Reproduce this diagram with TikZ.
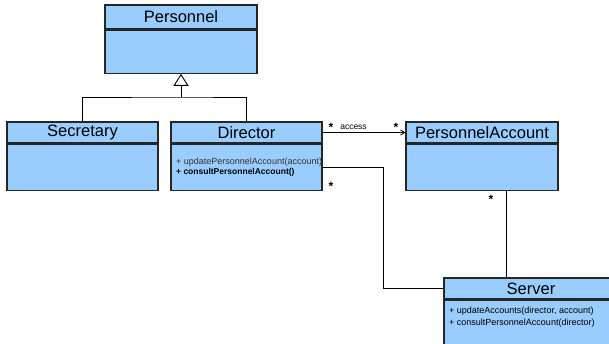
\documentclass[tikz,border=0pt]{standalone}
\usepackage{fontspec}
\setmainfont{Liberation Sans}
\usetikzlibrary{arrows.meta}
\definecolor{klasse}{RGB}{153,204,255}
\begin{document}
\begin{tikzpicture}[x=1pt,y=1pt,
	kopf/.style={draw=black!85, fill=klasse, line width=1.2pt, minimum height=21pt, inner sep=0pt, font=\fontsize{16.5}{18}\selectfont},
	rumpf/.style={draw=black!85, fill=klasse, line width=1.2pt, minimum height=46pt, inner sep=0pt, anchor=north},
	methode/.style={font=\fontsize{9}{10}\selectfont, anchor=west, inner sep=0pt},
	mult/.style={font=\bfseries\fontsize{12}{12}\selectfont, inner sep=0pt},
	verb/.style={line width=0.9pt}]
	\useasboundingbox (0,0) rectangle (609,343);
	\clip (0,0) rectangle (609,343);
	% Klassen
	\node[kopf, minimum width=152pt, minimum height=24pt] (perT) at (181,326) {Personnel};
	\node[rumpf, minimum width=152pt, minimum height=43pt] (per) at (perT.south) {};
	\node[kopf, minimum width=151pt] (secT) at (82.5,210.5) {Secretary};
	\node[rumpf, minimum width=151pt] (sec) at (secT.south) {};
	\node[kopf, minimum width=151pt] (dirT) at (246.5,210.5) {Director};
	\node[rumpf, minimum width=151pt] (dir) at (dirT.south) {};
	\node[kopf, minimum width=152pt] (accT) at (482,210.5) {PersonnelAccount};
	\node[rumpf, minimum width=152pt] (acc) at (accT.south) {};
	\node[kopf, minimum width=174pt] (srvT) at (531,54.5) {Server};
	\node[rumpf, minimum width=174pt, minimum height=64pt] (srv) at (srvT.south) {};
	% Methoden
	\node[methode, text=black!80] (dirM1) at (176,181) {+ updatePersonnelAccount(account)};
	\node[methode, font=\bfseries\fontsize{8.5}{10}\selectfont] (dirM2) at (176,171) {+ consultPersonnelAccount()};
	\node[methode] (srvM1) at (449,31.5) {+ updateAccounts(director, account)};
	\node[methode] (srvM2) at (449,20) {+ consultPersonnelAccount(director)};
	% Vererbung
	\coordinate (gabel) at (181,246);
	\draw[verb] (secT.north) |- (gabel) -| (dirT.north);
	\draw[verb, -{Triangle[open, width=15pt, length=12pt]}] (gabel) -- (per.south);
	% Assoziationen
	\draw[verb, -{Straight Barb[length=4pt, width=5pt]}] (dirT.east) -- (accT.west);
	\draw[verb] (dir.east) -- ++(61,0) |- (srvT.west);
	\draw[verb] ([xshift=24pt]acc.south) -- ([xshift=24pt]acc.south |- srvT.north);
	% Labels
	\node[mult] (m1) at (331,216) {*};
	\node[mult] (m2) at (396,216) {*};
	\node[mult] (m3) at (331,157) {*};
	\node[mult] (m4) at (491,144) {*};
	\node[font=\fontsize{8.5}{10}\selectfont, inner sep=0pt] (zugriff) at (353.5,216) {access};
\end{tikzpicture}
\end{document}
